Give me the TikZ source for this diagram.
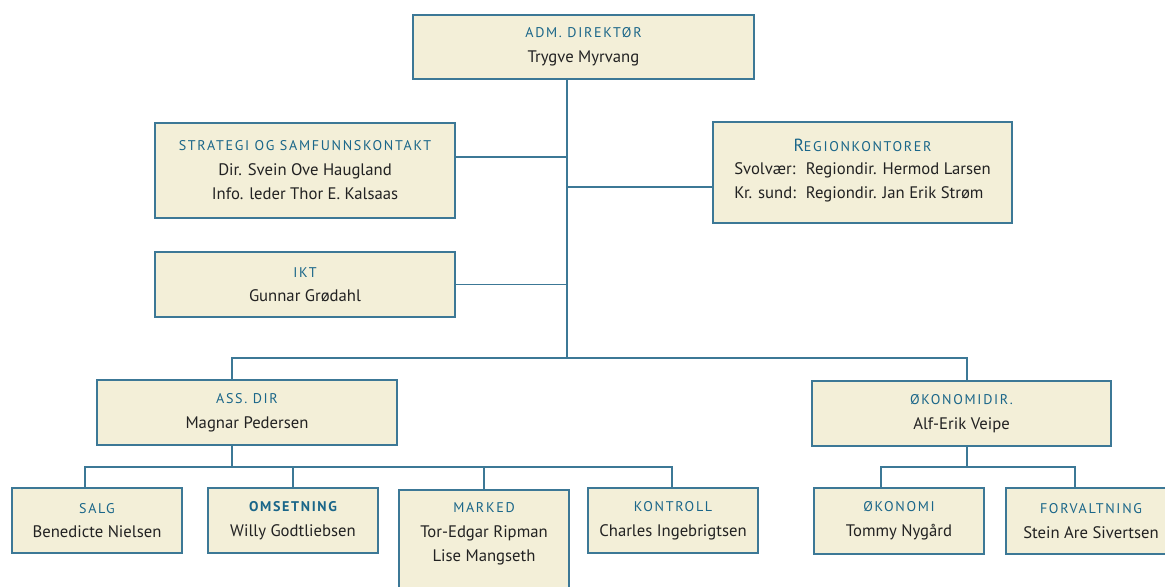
\documentclass[tikz,border=0pt]{standalone}
\usepackage{fontspec}
\usepackage{xcolor}
\setmainfont{PT Sans}
\newfontfamily\titlefont[LetterSpace=12]{PT Sans}

\definecolor{linecol}{HTML}{3C7896}
\definecolor{titlecol}{HTML}{1A6689}
\definecolor{boxcol}{HTML}{F3EFD8}
\definecolor{namecol}{HTML}{222222}

\newcommand{\ttl}[1]{{\titlefont\fontsize{8}{8}\selectfont\color{titlecol}#1}}

\tikzset{
  unit/.style={draw=linecol, fill=boxcol, line width=1.1pt, inner sep=0pt,
    align=center, text=namecol, font=\fontsize{9.5}{14}\selectfont},
  wide/.style={unit, minimum width=6cm, minimum height=1.3cm},
  small/.style={unit, minimum width=3.4cm, minimum height=1.3cm},
  link/.style={draw=linecol, line width=0.8pt}
}

\begin{document}
\begin{tikzpicture}[x=0.02cm, y=-0.02cm]
			\useasboundingbox (0,0) rectangle (1165,587);

			% Top level
			\node[unit, minimum width=6.82cm, minimum height=1.28cm] (adm) at (583.5,47)
				{\ttl{ADM. DIREKTØR}\\Trygve Myrvang};

			% Staff
			\node[wide, minimum height=1.9cm] (strategi) at (305,170.5)
				{\ttl{STRATEGI OG SAMFUNNSKONTAKT}\\Dir. Svein Ove Haugland\\Info. leder Thor E. Kalsaas};
			\node[wide, minimum width=5.98cm, minimum height=2.02cm] (region) at (862.5,172.5)
				{\ttl{{\fontsize{10}{8}\selectfont R}EGIONKONTORER}\\[2pt]
				 \begin{tabular}{@{}l@{\hspace{0.6em}}l@{}}
				 Svolvær: & Regiondir. Hermod Larsen\\
				 Kr. sund: & Regiondir. Jan Erik Strøm
				 \end{tabular}};
			\node[wide] (ikt) at (305,284.5) {\ttl{IKT}\\Gunnar Grødahl};

			% Second level
			\node[wide] (ass) at (247,412.5) {\ttl{ASS. DIR}\\Magnar Pedersen};
			\node[wide, minimum width=5.98cm] (okdir) at (961.5,413.5) {\ttl{ØKONOMIDIR.}\\Alf-Erik Veipe};

			% Departments
			\node[small] (salg) at (97,520.5) {\ttl{SALG}\\Benedicte Nielsen};
			\node[small] (omset) at (293,520.5) {\ttl{\bfseries OMSETNING}\\Willy Godtliebsen};
			\node[small, minimum height=2.4cm, anchor=north] (marked) at (484,489) {};
			\node[align=center, text=namecol, font=\fontsize{9.5}{14}\selectfont, inner sep=0pt]
				(markedtxt) at (484,534) {\ttl{MARKED}\\Tor-Edgar Ripman\\Lise Mangseth};
			\node[small] (kontroll) at (673,520.5) {\ttl{KONTROLL}\\Charles Ingebrigtsen};
			\node[small, minimum height=1.32cm] (okonomi) at (899,521) {\ttl{ØKONOMI}\\Tommy Nygård};
			\node[small, minimum height=1.32cm] (forvalt) at (1091,521) {\ttl{FORVALTNING}\\Stein Are Sivertsen};

			% Junctions
			\coordinate (hub) at (567,358);
			\coordinate (hubL) at (232,358);
			\coordinate (hubR) at (967,358);
			\coordinate (assbus) at (232,467);
			\coordinate (okbus) at (967,467);

			% Lines
			\draw[link] (adm.south -| hub) -- (hub);
			\draw[link] (strategi.east |- 0,157) -- (hub |- 0,157);
			\draw[link] (region.west |- 0,187) -- (hub |- 0,187);
			\draw[link] (ikt.east) -- (hub |- ikt.east);
			\draw[link] (ass.north -| hubL) -- (hubL) -- (hubR) -- (okdir.north -| hubR);

			\draw[link] (ass.south -| assbus) -- (assbus);
			\draw[link] (salg.north -| 85,0) |- (assbus) -| (kontroll.north -| 672,0);
			\draw[link] (omset.north) -- (omset.north |- assbus);
			\draw[link] (marked.north) -- (marked.north |- assbus);

			\draw[link] (okdir.south -| okbus) -- (okbus);
			\draw[link] (okonomi.north -| 881,0) |- (okbus) -| (forvalt.north -| 1075,0);
		\end{tikzpicture}
\end{document}
